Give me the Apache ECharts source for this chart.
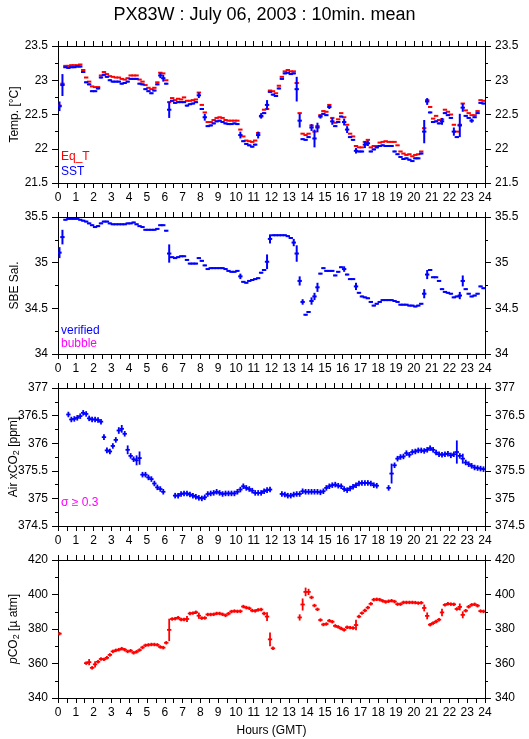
<!DOCTYPE html>
<html><head><meta charset="utf-8">
<script src="https://cdn.jsdelivr.net/npm/echarts@6/dist/echarts.min.js"></script>
<style>html,body{margin:0;padding:0;background:#fff}#c{width:529px;height:739px}</style>
</head><body><div id="c"></div><script>
// 10-minute means, index k -> interval [k/6, (k+1)/6] hours GMT
const hours = [0,1,2,3,4,5,6,7,8,9,10,11,12,13,14,15,16,17,18,19,20,21,22,23,24];

const sst = [
22.62,22.93,23.19,23.18,23.19,23.19,
23.20,23.20,23.12,22.97,22.94,22.84,
22.84,22.88,23.04,23.08,23.05,23.00,
22.98,22.98,22.98,22.95,22.96,22.98,
23.02,23.02,23.02,22.95,22.94,22.87,
22.84,22.81,22.85,22.94,23.07,23.03,
22.95,22.57,22.70,22.67,22.68,22.68,
22.68,22.63,22.65,22.66,22.68,22.78,
22.58,22.46,22.33,22.34,22.37,22.40,
22.41,22.39,22.37,22.36,22.36,22.37,
22.36,22.20,22.11,22.07,22.05,22.03,
22.06,22.20,22.48,22.52,22.64,22.83,
22.79,22.77,22.88,23.02,23.10,23.11,
23.09,23.10,22.87,22.41,22.14,22.13,
22.17,22.31,22.15,22.31,22.47,22.51,
22.49,22.61,22.40,22.33,22.39,22.47,
22.39,22.28,22.17,22.13,21.97,21.96,
21.96,22.06,22.08,21.96,21.99,22.02,
22.04,22.05,22.04,22.04,22.04,21.96,
21.92,21.88,21.85,21.86,21.84,21.82,
21.86,21.86,21.93,22.25,22.69,22.53,
22.39,22.40,22.37,22.40,22.52,22.49,
22.45,22.25,22.17,22.34,22.60,22.48,
22.45,22.41,22.46,22.52,22.67,22.66];
const sstErr = [[0,0.07],[1,0.16],[34,0.04],[35,0.05],[37,0.12],[47,0.04],[49,0.05],[61,0.05],[67,0.05],[68,0.04],[70,0.07],[80,0.18],[81,0.10],[85,0.05],[86,0.13],[87,0.07],[88,0.03],[91,0.03],[92,0.05],[96,0.05],[97,0.05],[100,0.04],[103,0.05],[104,0.04],[123,0.17],[124,0.05],[129,0.05],[133,0.06],[135,0.17],[136,0.06],[139,0.03]];

const eqT = [
22.63,22.95,23.21,23.21,23.22,23.22,
23.22,23.23,23.15,23.04,22.98,22.91,
22.90,22.90,23.07,23.12,23.09,23.06,
23.05,23.04,23.04,23.02,23.01,23.03,
23.07,23.07,23.07,23.01,22.98,22.93,
22.89,22.87,22.89,22.97,23.11,23.10,
23.00,22.68,22.74,22.71,22.73,22.72,
22.75,22.70,22.70,22.71,22.72,22.82,
22.64,22.53,22.39,22.39,22.42,22.45,
22.46,22.45,22.42,22.41,22.41,22.41,
22.41,22.28,22.18,22.12,22.11,22.10,
22.12,22.23,22.47,22.57,22.58,22.85,
22.84,22.81,22.92,23.05,23.13,23.15,
23.13,23.13,22.96,22.52,22.22,22.20,
22.22,22.34,22.25,22.33,22.49,22.55,
22.54,22.64,22.45,22.38,22.43,22.52,
22.46,22.35,22.22,22.18,22.04,22.02,
22.02,22.10,22.13,22.02,22.04,22.04,
22.09,22.10,22.11,22.10,22.10,22.10,
22.05,21.96,21.93,21.91,21.92,21.89,
21.91,21.92,21.96,22.30,22.71,22.61,
22.44,22.48,22.42,22.43,22.57,22.54,
22.50,22.35,22.25,22.35,22.66,22.56,
22.52,22.49,22.49,22.55,22.71,22.70];

const sal = [
35.11,35.28,35.47,35.48,35.48,35.48,
35.48,35.47,35.46,35.45,35.43,35.41,
35.39,35.40,35.43,35.45,35.45,35.43,
35.42,35.42,35.42,35.42,35.42,35.43,
35.43,35.44,35.42,35.40,35.39,35.36,
35.36,35.36,35.36,35.37,35.41,35.41,
35.35,35.10,35.06,35.05,35.06,35.07,
35.07,35.03,34.99,34.99,34.99,35.05,
35.02,34.97,34.93,34.94,34.94,34.94,
34.94,34.94,34.93,34.91,34.90,34.90,
34.91,34.85,34.79,34.78,34.80,34.81,
34.82,34.83,34.89,34.92,35.01,35.26,
35.30,35.30,35.30,35.30,35.30,35.29,
35.27,35.22,35.10,34.80,34.57,34.43,
34.46,34.58,34.63,34.73,34.88,34.94,
34.91,34.91,34.91,34.86,34.90,34.95,
34.93,34.87,34.82,34.82,34.74,34.67,
34.63,34.62,34.61,34.57,34.53,34.55,
34.57,34.59,34.59,34.59,34.59,34.58,
34.57,34.54,34.54,34.54,34.53,34.53,
34.52,34.53,34.55,34.66,34.87,34.92,
34.84,34.84,34.80,34.71,34.68,34.67,
34.66,34.62,34.63,34.64,34.80,34.71,
34.66,34.63,34.64,34.66,34.74,34.72];
const salErr = [[0,0.06],[1,0.08],[37,0.1],[61,0.03],[70,0.08],[71,0.05],[79,0.04],[80,0.09],[81,0.05],[82,0.03],[85,0.04],[86,0.04],[87,0.05],[96,0.03],[100,0.04],[123,0.05],[124,0.05],[135,0.04],[136,0.06]];

const xco2 = [
null,null,null,376.52,376.43,376.44,
376.46,376.49,376.55,376.53,376.45,376.43,
376.43,376.42,376.39,376.11,375.87,375.85,
375.95,376.06,376.23,376.26,376.17,375.88,
375.77,375.71,375.69,375.73,375.43,375.43,
375.38,375.35,375.27,375.20,375.17,375.12,
null,null,null,375.05,375.05,375.08,
375.09,375.09,375.07,375.05,375.03,375.01,
375.00,375.02,375.08,375.09,375.10,375.12,
375.10,375.08,375.09,375.09,375.09,375.09,
375.12,375.16,375.22,375.19,375.17,375.14,
375.10,375.10,375.10,375.13,375.15,375.16,
null,null,null,375.08,375.07,375.05,
375.05,375.07,375.08,375.08,375.13,375.12,
375.12,375.12,375.12,375.12,375.11,375.13,
375.19,375.22,375.24,375.25,375.23,375.22,
375.17,375.15,375.18,375.21,375.24,375.27,
375.28,375.28,375.28,375.27,375.24,375.23,
null,null,null,375.19,375.45,375.60,
375.72,375.75,375.76,375.82,375.79,375.84,
375.85,375.87,375.87,375.86,375.88,375.91,
375.88,375.83,375.80,375.79,375.80,375.81,
375.78,375.80,375.84,375.77,375.72,375.65,
375.62,375.59,375.56,375.55,375.54,375.53];
const xco2Err = [[15,0.05],[20,0.06],[21,0.07],[23,0.08],[26,0.09],[27,0.12],[112,0.18],[134,0.21],[136,0.09]];

const pco2 = [
377.3,null,null,null,null,null,
null,null,null,360.2,360.8,357.5,
359.5,361.0,362.6,362.4,363.3,365.0,
367.0,367.6,368.0,368.6,368.0,367.0,
367.4,366.2,366.8,367.8,369.3,370.5,
370.8,371.0,371.0,370.8,369.6,369.2,
372.0,379.5,385.8,386.0,386.5,385.5,
385.5,385.8,389.0,389.2,389.7,387.7,
386.3,386.4,388.4,388.4,388.5,389.0,
389.0,388.5,387.9,388.9,390.1,390.4,
390.2,390.3,393.0,392.4,392.0,390.7,
390.5,391.1,391.3,389.0,387.2,374.0,
368.8,null,null,null,null,null,
null,null,null,386.7,394.2,401.5,
401.5,398.3,393.6,391.4,385.2,382.6,
382.9,384.8,384.2,381.8,381.2,380.3,
379.5,381.0,380.8,380.6,382.3,387.2,
389.2,390.7,392.4,394.6,397.0,397.2,
397.0,396.3,395.7,396.1,396.4,395.9,
394.4,394.4,395.4,395.4,395.4,395.4,
395.3,395.0,395.2,392.2,387.6,382.5,
383.4,384.3,385.4,389.6,394.0,394.6,
394.4,394.3,391.6,392.8,388.2,390.6,
392.9,394.0,394.3,393.5,390.4,390.2];
const pco2Err = [[10,1.8],[12,1.8],[37,6.5],[43,1.8],[47,1.8],[70,2.5],[71,4],[81,1.8],[82,3.5],[83,2.5],[84,1.8],[100,3],[123,2],[124,2],[129,2.2],[135,2],[136,2]];

const FONT = '"Liberation Sans", Arial, Helvetica, sans-serif';
const BLUE = '#0000ff', RED = '#ff0000', MAG = '#ff00ff';

function build(vals, errs, def) {
  const em = {}; errs.forEach(p => em[p[0]] = p[1]);
  const out = [];
  vals.forEach((v, k) => { if (v !== null) out.push([k/6, (k+1)/6, v, em[k] !== undefined ? em[k] : def]); });
  return out;
}
function render(color, lw) {
  return function (params, api) {
    const t0 = api.value(0), t1 = api.value(1), v = api.value(2), e = api.value(3);
    const pL = api.coord([t0, v]), pR = api.coord([t1, v]);
    const tc = (t0 + t1) / 2;
    const ch = [{type:'line', shape:{x1:pL[0]-0.7, y1:pL[1], x2:pR[0]+0.7, y2:pR[1]}, style:{stroke:color, lineWidth:lw}}];
    if (e > 0) {
      const pT = api.coord([tc, v + e]), pB = api.coord([tc, v - e]);
      ch.push({type:'line', shape:{x1:pT[0], y1:pT[1], x2:pB[0], y2:pB[1]}, style:{stroke:color, lineWidth:lw}});
    }
    return {type:'group', children: ch};
  };
}

const tops = [46, 217, 388, 560];
const heights = [137, 137, 138, 138];
const grids = tops.map((t, i) => ({left:58, right:44, top:t, height:heights[i], containLabel:false, outerBoundsMode:'none'}));

const black = {color:'#000', width:1};
const xAxis = [], yAxis = [];
const yDefs = [
  {min:21.5, max:23.5, interval:0.5, name:'Temp. [°C]'},
  {min:34, max:35.5, interval:0.5, name:'SBE Sal.'},
  {min:374.5, max:377, interval:0.5, name:'Air xCO{sub|2} [ppm]'},
  {min:340, max:420, interval:20, name:'{it|p}CO{sub|2} [µ atm]'}
];
for (let i = 0; i < 4; i++) {
  const common = {type:'value', gridIndex:i, min:0, max:24, interval:1,
    axisLine:{onZero:false, lineStyle:black},
    axisTick:{length:5, lineStyle:black},
    minorTick:{show:true, splitNumber:2, length:5, lineStyle:black},
    splitLine:{show:false}, minorSplitLine:{show:false}};
  xAxis.push(Object.assign({}, common, {position:'bottom',
    axisLabel:{color:'#000', fontSize:12, margin:9, fontFamily:FONT, formatter: v => String(hours[v])},
    name: i === 3 ? 'Hours (GMT)' : '', nameLocation:'middle', nameGap:27, nameMoveOverlap:false,
    nameTextStyle:{color:'#000', fontSize:12, fontFamily:FONT}}));
  xAxis.push(Object.assign({}, common, {position:'top', axisLabel:{show:false}}));
  const d = yDefs[i];
  const yc = {type:'value', gridIndex:i, min:d.min, max:d.max, interval:d.interval,
    axisLine:{onZero:false, lineStyle:black},
    axisTick:{length:6, lineStyle:black},
    minorTick:{show:true, splitNumber:2, length:3, lineStyle:black},
    splitLine:{show:false}, minorSplitLine:{show:false},
    axisLabel:{color:'#000', fontSize:12, margin:10, fontFamily:FONT}};
  yAxis.push(Object.assign({}, yc, {position:'left', name:d.name, nameLocation:'middle', nameGap:37, nameRotate:90,
    nameMoveOverlap:false,
    nameTextStyle:{color:'#000', fontSize:12, fontFamily:FONT,
      rich:{sub:{fontSize:9, fontFamily:FONT, color:'#000', padding:[6,0,0,0]},
            it:{fontSize:12, fontStyle:'italic', fontFamily:FONT, color:'#000'}}}}));
  yAxis.push(Object.assign({}, yc, {position:'right'}));
}

function ser(name, i, data, color, lw) {
  return {name, type:'custom', xAxisIndex:2*i, yAxisIndex:2*i, data, renderItem: render(color, lw), clip:true, silent:true, animation:false};
}
const series = [
  ser('Eq_T', 0, build(eqT, [], 0), RED, 2),
  ser('SST', 0, build(sst, sstErr, 0.012), BLUE, 2),
  ser('SBE Sal.', 1, build(sal, salErr, 0.008), BLUE, 2),
  ser('Air xCO2', 2, build(xco2, xco2Err, 0.05), BLUE, 1.8),
  ser('pCO2', 3, build(pco2, pco2Err, 1.0), RED, 1.8)
];

function label(text, x, y, color) {
  return {type:'text', left:x, top:y, style:{text, fill:color, font:'12px ' + FONT}};
}
const chart = echarts.init(document.getElementById('c'), null, {renderer:'canvas'});
chart.setOption({
  animation:false,
  backgroundColor:'#fff',
  title:{text:'PX83W : July 06, 2003 : 10min. mean', left:'center', top:1,
    textStyle:{color:'#000', fontSize:18, fontWeight:'normal', fontFamily:FONT}},
  grid: grids, xAxis, yAxis, series,
  graphic:[
    label('Eq_T', 61, 151, RED),
    label('SST', 61, 166, BLUE),
    label('verified', 61, 325, BLUE),
    label('bubble', 61, 338, MAG),
    label('σ ≥ 0.3', 61, 497, MAG)
  ]
});
</script></body></html>
